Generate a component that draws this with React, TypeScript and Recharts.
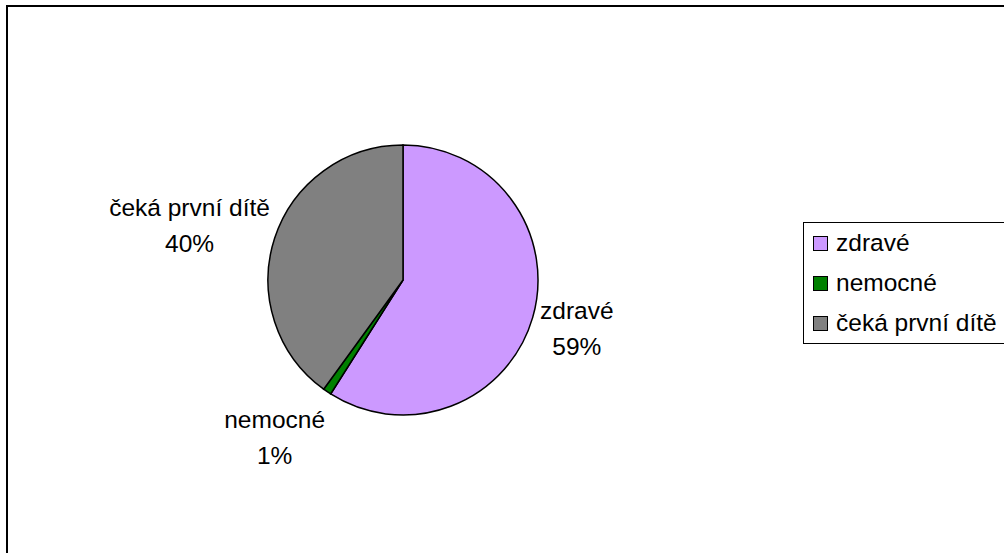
import React from 'react';
import { PieChart, Pie, Cell, Legend } from 'recharts';

const CATEGORIES = ['zdravé', 'nemocné', 'čeká první dítě'];
const VALUES = [59, 1, 40];
const COLORS = ['#CC99FF', '#008000', '#808080'];

// label placement (distance beyond pie edge, angular nudge in degrees)
const LABEL_LAYOUT = [
  { dr: 46, da: 0 },
  { dr: 69, da: -4.8 },
  { dr: 85, da: 4 },
];

const FONT = '"Liberation Sans", Arial, sans-serif';
const FONT_SIZE = 24.5;
const RAD = Math.PI / 180;

const data = CATEGORIES.map((name, i) => ({ name, value: VALUES[i] }));

const renderLabel = (props: any) => {
  const { cx, cy, midAngle, outerRadius, index, name, percent } = props;
  const lay = LABEL_LAYOUT[index] || { dr: 40, da: 0 };
  const ang = (midAngle + lay.da) * RAD;
  const r = outerRadius + lay.dr;
  const x = cx + r * Math.cos(-ang);
  const y = cy + r * Math.sin(-ang);
  const pct = Math.round(percent * 100);
  return (
    <text x={x} y={y} textAnchor="middle" fontSize={FONT_SIZE} fontFamily={FONT} fill="#000">
      <tspan x={x} y={y - 11}>{name}</tspan>
      <tspan x={x} y={y + 25}>{pct}%</tspan>
    </text>
  );
};

const renderLegend = (props: any) => {
  const payload = [...(props.payload || [])].sort(
    (a: any, b: any) => CATEGORIES.indexOf(a.value) - CATEGORIES.indexOf(b.value)
  );
  return (
    <div
      style={{
        border: '1.5px solid #000',
        background: '#fff',
        padding: '0 0 0 9px',
        boxSizing: 'border-box',
        height: 122,
        display: 'flex',
        flexDirection: 'column',
        justifyContent: 'space-around',
        fontFamily: FONT,
        fontSize: FONT_SIZE,
        color: '#000',
      }}
    >
      {payload.map((entry: any, i: number) => (
        <div key={i} style={{ display: 'flex', alignItems: 'center', height: 41, whiteSpace: 'nowrap' }}>
          <span
            style={{
              display: 'inline-block',
              width: 13,
              height: 13,
              background: entry.color,
              border: '1px solid #000',
              marginRight: 8,
            }}
          />
          <span>{entry.value}</span>
        </div>
      ))}
    </div>
  );
};

export default function App() {
  return (
    <div
      style={{
        position: 'absolute',
        left: 0,
        top: 0,
        width: 1004,
        height: 553,
        overflow: 'hidden',
        background: '#fff',
      }}
    >
      <div
        style={{
          position: 'absolute',
          left: 6,
          top: 5,
          width: 1100,
          height: 700,
          border: '2px solid #000',
          boxSizing: 'border-box',
        }}
      />
      <div style={{ position: 'absolute', left: 0, top: 0 }}>
        <PieChart width={1004} height={553} margin={{ top: 0, right: 0, bottom: 0, left: 0 }}>
          <Pie
            data={data}
            dataKey="value"
            nameKey="name"
            cx={403}
            cy={280}
            outerRadius={135}
            startAngle={90}
            endAngle={-270}
            stroke="#000"
            strokeWidth={1.5}
            label={renderLabel}
            labelLine={false}
            isAnimationActive={false}
            legendType="square"
          >
            {data.map((_, i) => (
              <Cell key={i} fill={COLORS[i]} />
            ))}
          </Pie>
          <Legend
            content={renderLegend}
            layout="vertical"
            itemSorter={null as any}
            wrapperStyle={{ position: 'absolute', left: 803, top: 222, width: 260, right: 'auto', bottom: 'auto' }}
          />
        </PieChart>
      </div>
    </div>
  );
}
